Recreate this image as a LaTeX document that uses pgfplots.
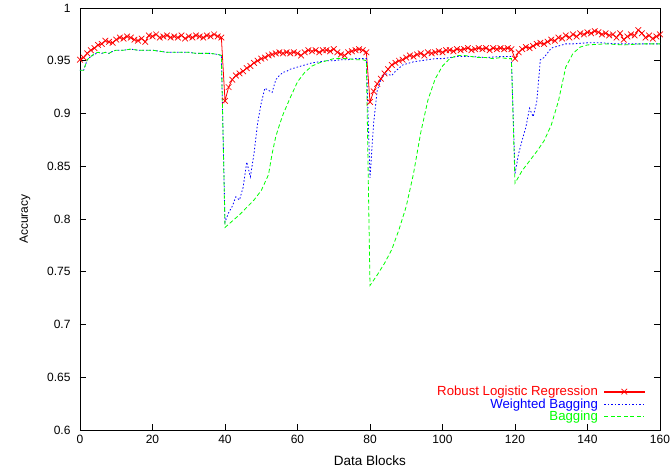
\documentclass[border=0pt]{standalone}
\usepackage{pgfplots}
\pgfplotsset{compat=1.18}
\usepackage{fontspec}
\setmainfont{Liberation Sans}

\pgfplotstableread{
x y
0 0.951
1 0.953
2 0.957
3 0.960
4 0.962
5 0.965
6 0.966
7 0.969
8 0.968
9 0.967
10 0.970
11 0.972
12 0.971
13 0.973
14 0.972
15 0.970
16 0.969
17 0.971
18 0.968
19 0.974
20 0.973
21 0.975
22 0.972
23 0.973
24 0.974
25 0.972
26 0.973
27 0.972
28 0.974
29 0.971
30 0.973
31 0.972
32 0.974
33 0.973
34 0.972
35 0.974
36 0.973
37 0.975
38 0.973
39 0.972
40 0.912
41 0.925
42 0.932
43 0.936
44 0.938
45 0.940
46 0.943
47 0.945
48 0.948
49 0.950
50 0.952
51 0.953
52 0.955
53 0.956
54 0.957
55 0.958
56 0.957
57 0.958
58 0.957
59 0.958
60 0.957
61 0.955
62 0.958
63 0.960
64 0.959
65 0.960
66 0.958
67 0.960
68 0.960
69 0.959
70 0.961
71 0.958
72 0.956
73 0.955
74 0.958
75 0.959
76 0.960
77 0.961
78 0.960
79 0.958
80 0.911
81 0.921
82 0.928
83 0.933
84 0.938
85 0.942
86 0.946
87 0.948
88 0.950
89 0.951
90 0.953
91 0.955
92 0.954
93 0.956
94 0.957
95 0.955
96 0.958
97 0.957
98 0.958
99 0.959
100 0.958
101 0.960
102 0.960
103 0.959
104 0.961
105 0.960
106 0.961
107 0.962
108 0.960
109 0.961
110 0.962
111 0.961
112 0.962
113 0.960
114 0.962
115 0.961
116 0.962
117 0.961
118 0.962
119 0.961
120 0.952
121 0.958
122 0.961
123 0.963
124 0.962
125 0.964
126 0.966
127 0.967
128 0.966
129 0.968
130 0.970
131 0.969
132 0.972
133 0.971
134 0.974
135 0.972
136 0.975
137 0.973
138 0.976
139 0.975
140 0.977
141 0.976
142 0.978
143 0.977
144 0.975
145 0.976
146 0.974
147 0.975
148 0.972
149 0.976
150 0.970
151 0.973
152 0.975
153 0.974
154 0.979
155 0.976
156 0.972
157 0.974
158 0.971
159 0.973
160 0.975
}\robust

\pgfplotstableread{
x y
0 0.941
1 0.941
2 0.951
3 0.954
4 0.956
5 0.958
6 0.957
7 0.958
8 0.957
9 0.959
10 0.960
12 0.960
14 0.961
16 0.960
18 0.960
20 0.960
22 0.959
24 0.958
26 0.958
28 0.958
30 0.958
32 0.957
34 0.957
36 0.957
38 0.956
39 0.955
40 0.797
41 0.806
42 0.812
43 0.821
44 0.818
45 0.830
46 0.854
47 0.840
48 0.862
49 0.891
50 0.910
51 0.924
52 0.922
53 0.920
54 0.932
55 0.936
56 0.939
57 0.940
58 0.942
60 0.944
62 0.946
64 0.948
66 0.949
68 0.950
70 0.950
72 0.951
74 0.951
76 0.952
78 0.952
79 0.952
80 0.839
81 0.891
82 0.922
83 0.932
84 0.938
85 0.937
86 0.936
87 0.940
88 0.943
89 0.946
90 0.947
92 0.949
94 0.950
96 0.951
98 0.952
100 0.952
104 0.954
108 0.954
112 0.953
116 0.954
119 0.954
120 0.843
121 0.862
122 0.875
123 0.887
124 0.905
125 0.897
126 0.911
127 0.951
128 0.953
130 0.962
132 0.964
134 0.966
136 0.966
140 0.967
144 0.967
148 0.966
152 0.966
156 0.966
160 0.966
}\weighted

\pgfplotstableread{
x y
0 0.941
1 0.941
2 0.951
3 0.954
4 0.957
5 0.958
6 0.957
7 0.958
8 0.957
9 0.959
10 0.960
12 0.960
14 0.961
16 0.960
18 0.960
20 0.960
22 0.959
24 0.958
26 0.958
28 0.958
30 0.958
32 0.957
34 0.957
36 0.957
38 0.956
39 0.955
40 0.792
42 0.798
44 0.804
46 0.811
48 0.818
50 0.827
52 0.842
53 0.862
54 0.878
55 0.889
56 0.899
57 0.907
58 0.915
60 0.930
62 0.939
64 0.945
66 0.948
68 0.950
70 0.952
72 0.952
74 0.952
76 0.951
78 0.951
79 0.950
80 0.737
82 0.747
84 0.758
86 0.771
88 0.790
90 0.812
92 0.843
94 0.882
96 0.913
98 0.933
100 0.945
102 0.952
104 0.955
106 0.955
108 0.954
110 0.953
112 0.953
114 0.952
116 0.953
118 0.952
119 0.952
120 0.834
122 0.846
124 0.855
126 0.864
128 0.874
130 0.889
132 0.912
134 0.944
136 0.957
138 0.963
140 0.965
145 0.966
150 0.965
155 0.966
160 0.966
}\bagging

\begin{document}
\begin{tikzpicture}
\begin{axis}[
    at={(0pt,0pt)}, anchor=south west,
    scale only axis,
    width=580pt, height=422pt,
    xmin=0, xmax=160,
    ymin=0.6, ymax=1,
    xtick distance=20,
    ytick distance=0.05,
    tick align=inside,
    major tick length=6pt,
    axis line style={line width=0.8pt},
    every tick/.style={black, line width=0.6pt},
    font=\fontsize{12}{14}\selectfont,
    /pgf/number format/assume math mode=true,
    yticklabel style={/pgf/number format/fixed, /pgf/number format/precision=2, xshift=-6pt},
    xticklabel style={yshift=-2pt},
    xlabel={Data Blocks},
    ylabel={Accuracy},
    xlabel style={font=\fontsize{13.5}{15}\selectfont, yshift=-5pt},
    ylabel style={yshift=10pt},
    legend plot pos=right,
    legend cell align=right,
    legend style={at={(rel axis cs:0.974,0.013)}, anchor=south east,
        draw=none, fill=none, inner sep=0pt, row sep=-2.5pt, column sep=4pt,
        font=\fontsize{13.2}{14}\selectfont},
    legend image code/.code={\draw[mark repeat=2, mark phase=2, #1]
        plot coordinates {(0pt,0pt) (20pt,0pt) (40pt,0pt)};},
]
% red series: legend line filled on its own so that it keeps its colour
\addplot[color=red, line width=0.8pt, mark=x, mark size=4pt,
    mark options={line width=0.7pt},
    legend image code/.code={\fill[red] (0pt,-0.4pt) rectangle (40pt,0.4pt);
        \draw[##1, only marks, mark repeat=2, mark phase=2]
        plot coordinates {(0pt,0pt) (20pt,0pt) (40pt,0pt)};}] table[x=x, y=y] {\robust};
\addlegendentry[text=red]{Robust Logistic Regression}
\addplot[color=blue, line width=0.8pt, dash pattern=on 1.5pt off 2pt] table[x=x, y=y] {\weighted};
\addlegendentry[text=blue]{Weighted Bagging}
\addplot[color=green, line width=0.8pt, dash pattern=on 4pt off 2.5pt] table[x=x, y=y] {\bagging};
\addlegendentry[text=green]{Bagging}
\end{axis}
\pgfresetboundingbox
\path[use as bounding box] (-80pt,-42pt) rectangle (592pt,430pt);
\end{tikzpicture}
\end{document}
